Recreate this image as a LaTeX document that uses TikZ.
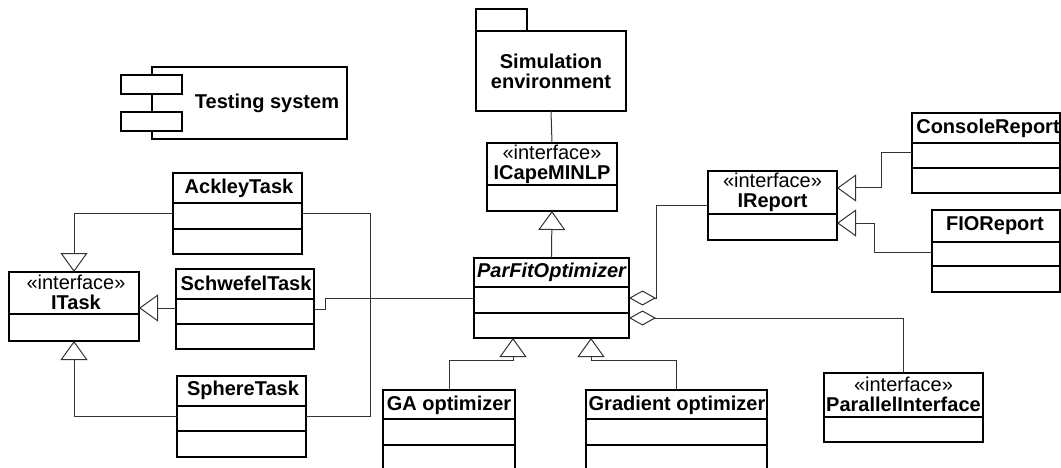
\documentclass[tikz,border=0pt]{standalone}
\usepackage{fontspec}
\setmainfont{Liberation Sans}
\usetikzlibrary{arrows.meta}
\tikzset{
 box/.style={draw, line width=1.1pt, anchor=north west, inner sep=0pt, outer sep=0pt},
 sep/.style={line width=1.1pt},
 lbl/.style={inner sep=0pt, font=\fontsize{20}{20}\selectfont\bfseries},
 iface/.style={inner sep=0pt, align=center, font=\fontsize{20}{20}\selectfont},
 conn/.style={draw=black!80, line width=1pt},
 gen/.style={-{Triangle[open, length=19pt, width=27pt, line width=1pt]}},
 agg/.style={{Diamond[open, length=27pt, width=15pt, line width=1pt]}-},
}
\begin{document}
\begin{tikzpicture}[x=1pt,y=-1pt]
\path[use as bounding box, clip] (0,0) rectangle (1061,468);

% Simulation environment (package)
\node[box, minimum width=51pt, minimum height=22pt] (simtab) at (476,9) {};
\node[box, minimum width=150pt, minimum height=80pt] (sim) at (476,31) {};
\node[lbl, align=center] (simT) at (551,71) {Simulation\\environment};

% Testing system (component)
\node[box, minimum width=195pt, minimum height=72pt] (test) at (152,67) {};
\node[box, fill=white, minimum width=61pt, minimum height=19pt] (tr1) at (121,75) {};
\node[box, fill=white, minimum width=61pt, minimum height=19pt] (tr2) at (121,112) {};
\node[lbl] (testT) at (267,103) {Testing system};

% ICapeMINLP
\node[box, minimum width=130pt, minimum height=68pt] (icape) at (487,143) {};
\draw[sep] (icape.west |- 0,185) -- (icape.east |- 0,185);
\node[iface] (icapeT) at (552,164) {«interface»\\\textbf{ICapeMINLP}};

% ParFitOptimizer
\node[box, minimum width=155pt, minimum height=80pt] (parfit) at (474,258) {};
\draw[sep] (parfit.west |- 0,287) -- (parfit.east |- 0,287);
\draw[sep] (parfit.west |- 0,313) -- (parfit.east |- 0,313);
\node[lbl, font=\fontsize{20}{20}\selectfont\bfseries\itshape] (parfitT) at (551.5,272) {ParFitOptimizer};

% IReport
\node[box, minimum width=129pt, minimum height=69pt] (ireport) at (708,171) {};
\draw[sep] (ireport.west |- 0,214) -- (ireport.east |- 0,214);
\node[iface] (ireportT) at (772.5,192) {«interface»\\\textbf{IReport}};

% ConsoleReport
\node[box, minimum width=148pt, minimum height=80pt] (console) at (912,113) {};
\draw[sep] (console.west |- 0,143) -- (console.east |- 0,143);
\draw[sep] (console.west |- 0,168) -- (console.east |- 0,168);
\node[lbl] (consoleT) at (988,128) {ConsoleReport};

% FIOReport
\node[box, minimum width=128pt, minimum height=82pt] (fio) at (932,210) {};
\draw[sep] (fio.west |- 0,242) -- (fio.east |- 0,242);
\draw[sep] (fio.west |- 0,266) -- (fio.east |- 0,266);
\node[lbl] (fioT) at (995,226) {FIOReport};

% ParallelInterface
\node[box, minimum width=159pt, minimum height=69pt] (parallel) at (824,373) {};
\draw[sep] (parallel.west |- 0,417) -- (parallel.east |- 0,417);
\node[iface] (parallelT) at (903.5,394) {«interface»\\\textbf{ParallelInterface}};

% AckleyTask
\node[box, minimum width=129pt, minimum height=81pt] (ackley) at (173,173) {};
\draw[sep] (ackley.west |- 0,203) -- (ackley.east |- 0,203);
\draw[sep] (ackley.west |- 0,229) -- (ackley.east |- 0,229);
\node[lbl] (ackleyT) at (239,188) {AckleyTask};

% ITask
\node[box, minimum width=130pt, minimum height=69pt] (itask) at (9,272) {};
\draw[sep] (itask.west |- 0,314) -- (itask.east |- 0,314);
\node[iface] (itaskT) at (76,292) {«interface»\\\textbf{ITask}};

% SchwefelTask
\node[box, minimum width=138pt, minimum height=80pt] (schwefel) at (176,269) {};
\draw[sep] (schwefel.west |- 0,299) -- (schwefel.east |- 0,299);
\draw[sep] (schwefel.west |- 0,324) -- (schwefel.east |- 0,324);
\node[lbl] (schwefelT) at (246,283) {SchwefelTask};

% SphereTask
\node[box, minimum width=129pt, minimum height=81pt] (sphere) at (177,376) {};
\draw[sep] (sphere.west |- 0,406) -- (sphere.east |- 0,406);
\draw[sep] (sphere.west |- 0,431) -- (sphere.east |- 0,431);
\node[lbl] (sphereT) at (243,390) {SphereTask};

% GA optimizer
\node[box, minimum width=132pt, minimum height=95pt] (ga) at (383,390) {};
\draw[sep] (ga.west |- 0,419) -- (ga.east |- 0,419);
\draw[sep] (ga.west |- 0,445) -- (ga.east |- 0,445);
\node[lbl] (gaT) at (449,405) {GA optimizer};

% Gradient optimizer
\node[box, minimum width=181pt, minimum height=95pt] (grad) at (586,390) {};
\draw[sep] (grad.west |- 0,419) -- (grad.east |- 0,419);
\draw[sep] (grad.west |- 0,445) -- (grad.east |- 0,445);
\node[lbl] (gradT) at (677,405) {Gradient optimizer};

% connectors
\draw[conn] (sim.south) -- (icape.north);
\draw[conn, gen] (parfit.north) -- (icape.south);

\draw[conn, agg] (parfit.east |- 0,298) -- (656,298) |- (ireport.west |- 0,206);
\draw[conn, agg] (parfit.east |- 0,318) -| (parallel.north);

\draw[conn, gen] (console.west |- 0,153) -| (881,188) -- (ireport.east |- 0,188);
\draw[conn, gen] (fio.west |- 0,252) -| (874,223) -- (ireport.east |- 0,223);

\draw[conn, gen] (ackley.west |- 0,214) -| (itask.north);
\draw[conn, gen] (schwefel.west |- 0,308) -- (itask.east |- 0,308);
\draw[conn, gen] (sphere.west |- 0,416) -| (itask.south);

\draw[conn, gen] (ga.north) |- (513,360) -- (parfit.south -| 513,0);
\draw[conn, gen] (grad.north) |- (591,360) -- (parfit.south -| 591,0);

\coordinate (j) at (370,298);
\coordinate (k) at (325,298);
\draw[conn] (parfit.west |- 0,298) -- (j);
\draw[conn] (j) |- (ackley.east |- 0,214);
\draw[conn] (j) |- (sphere.east |- 0,416);
\draw[conn] (j) -- (k) |- (schwefel.east |- 0,309);
\end{tikzpicture}
\end{document}
